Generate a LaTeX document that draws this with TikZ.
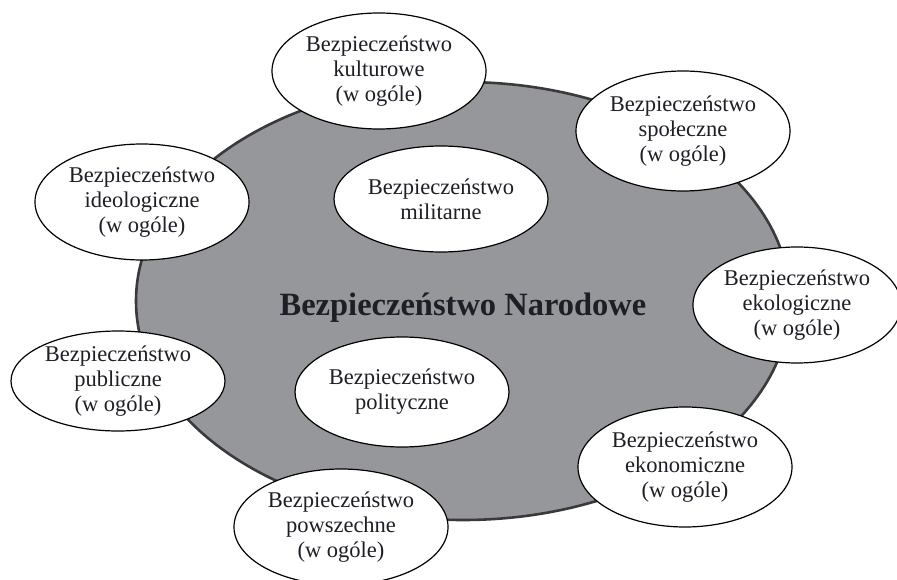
\documentclass[tikz,border=0pt]{standalone}
\usepackage{fontspec}
\setmainfont{Liberation Serif}
\usetikzlibrary{shapes.geometric}
\definecolor{biggray}{RGB}{150,151,155}
\definecolor{bigline}{RGB}{58,58,60}
\definecolor{txt}{RGB}{30,30,38}
\tikzset{
  sub/.style={ellipse, draw=black, line width=1.2pt, fill=white, inner sep=0pt,
    minimum width=214pt, minimum height=116pt, align=center, text=txt,
    font=\fontsize{22.5}{25}\selectfont},
  bigell/.style={ellipse, draw=bigline, line width=2.6pt, fill=biggray, inner sep=0pt,
    minimum width=654pt, minimum height=438pt},
  title/.style={text=txt, font=\fontsize{32.5}{35}\selectfont\bfseries}
}
\begin{document}
\begin{tikzpicture}[x=1pt,y=-1pt]
\useasboundingbox (0,0) rectangle (897,580);
\begin{scope}
\clip (0,0) rectangle (897,580);
\node[bigell] (nat) at (463,301) {};
\node[title, anchor=base] (natlabel) at (463,315) {Bezpieczeństwo Narodowe};
\node[sub] (kult) at (379,71) {Bezpieczeństwo\\kulturowe\\(w ogóle)};
\node[sub] (ideo) at (142,202) {Bezpieczeństwo\\ideologiczne\\(w ogóle)};
\node[sub, minimum height=106pt] (mil) at (441,199) {Bezpieczeństwo\\militarne};
\node[sub, minimum height=120pt] (spol) at (683,131) {Bezpieczeństwo\\społeczne\\(w ogóle)};
\node[sub, minimum width=208pt] (eko) at (797,305) {Bezpieczeństwo\\ekologiczne\\(w ogóle)};
\node[sub, minimum height=100pt] (pub) at (118,381) {Bezpieczeństwo\\publiczne\\(w ogóle)};
\node[sub, minimum height=110pt] (pol) at (402,392) {Bezpieczeństwo\\polityczne};
\node[sub] (pow) at (341,527) {Bezpieczeństwo\\powszechne\\(w ogóle)};
\node[sub, minimum height=120pt] (ekon) at (685,467) {Bezpieczeństwo\\ekonomiczne\\(w ogóle)};
\end{scope}
\end{tikzpicture}
\end{document}
